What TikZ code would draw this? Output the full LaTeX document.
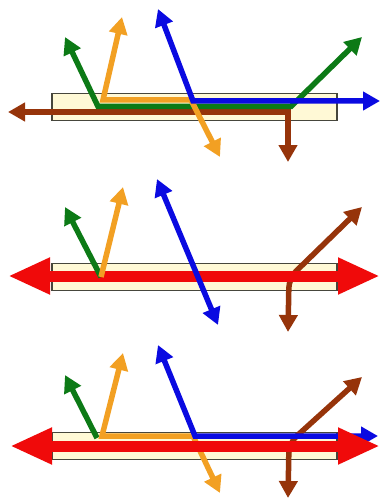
\documentclass[tikz,border=0pt]{standalone}
\usetikzlibrary{arrows.meta}
\definecolor{raybrown}{RGB}{150,52,10}
\definecolor{raygreen}{RGB}{12,122,22}
\definecolor{rayorange}{RGB}{242,160,35}
\definecolor{rayblue}{RGB}{10,10,225}
\definecolor{rayred}{RGB}{240,10,10}
\definecolor{barfill}{RGB}{255,249,214}
\definecolor{barline}{RGB}{70,70,60}

\begin{document}
\begin{tikzpicture}[
  x=1pt, y=-1pt,
  bar/.style={draw=barline, line width=1.2pt, fill=barfill,
              minimum width=285pt, minimum height=27pt, inner sep=0pt},
  ray/.style={line width=5.5pt, -{Triangle[width=18pt,length=17pt]}},
  tworay/.style={line width=5.5pt, {Triangle[width=18pt,length=17pt]}-{Triangle[width=18pt,length=17pt]}},
  beam/.style={line width=11pt, color=rayred,
               {Triangle[width=34pt,length=42pt]}-{Triangle[width=34pt,length=42pt]}}
]
  \useasboundingbox (0,0) rectangle (382,500);

  \node[bar] (bar1) at (194.5,107) {};
  \node[bar] (bar2) at (194.5,277) {};
  \node[bar] (bar3) at (194.5,446) {};

  \coordinate (brownW1) at (8,112);
  \coordinate (brownC1) at (288,112);
  \coordinate (brownS1) at (288,162);
  \coordinate (greenW1) at (65,37);
  \coordinate (greenA1) at (98,106.5);
  \coordinate (greenB1) at (291,106.5);
  \coordinate (greenE1) at (362,37);
  \coordinate (orangeN1) at (122,17);
  \coordinate (orangeA1) at (103,100);
  \coordinate (orangeB1) at (191,100);
  \coordinate (orangeS1) at (220,157);
  \coordinate (blueN1) at (158,9);
  \coordinate (blueA1) at (193,101);
  \coordinate (blueE1) at (380,101);

  \draw[tworay, raybrown] (brownW1) -- (brownC1) -- (brownS1);
  \draw[tworay, raygreen] (greenW1) -- (greenA1) -- (greenB1) -- (greenE1);
  \draw[tworay, rayorange] (orangeN1) -- (orangeA1) -- (orangeB1) -- (orangeS1);
  \draw[tworay, rayblue] (blueN1) -- (blueA1) -- (blueE1);

  \coordinate (hit2) at (101,277);
  \coordinate (greenW2) at (65,207);
  \coordinate (orangeN2) at (123,187);
  \coordinate (blueN2) at (157,179);
  \coordinate (blueS2) at (218,325);
  \coordinate (brownE2) at (362,207);
  \coordinate (brownC2) at (289,278);
  \coordinate (brownS2) at (288,332);
  \coordinate (redW2) at (8,276);
  \coordinate (redE2) at (380,276);

  \draw[tworay, raybrown, rounded corners=10pt] (brownE2) -- (brownC2) -- (brownS2);
  \draw[beam] (redW2) -- (redE2);
  \draw[ray, raygreen] (hit2) -- (greenW2);
  \draw[ray, rayorange] (hit2) -- (orangeN2);
  \draw[tworay, rayblue] (blueN2) -- (blueS2);

  \coordinate (greenW3) at (65,375);
  \coordinate (greenA3) at (97,438);
  \coordinate (orangeN3) at (123,353);
  \coordinate (orangeA3) at (102,436);
  \coordinate (orangeB3) at (193,436);
  \coordinate (orangeS3) at (220,493);
  \coordinate (blueN3) at (158,345);
  \coordinate (blueA3) at (195,436);
  \coordinate (blueE3) at (378,436);
  \coordinate (brownE3) at (362,377);
  \coordinate (brownC3) at (289,443);
  \coordinate (brownS3) at (288,498);
  \coordinate (redW3) at (10,446);
  \coordinate (redE3) at (380,446);

  \draw[tworay, raybrown, rounded corners=10pt] (brownE3) -- (brownC3) -- (brownS3);
  \draw[ray, raygreen] (greenA3) -- (greenW3);
  \draw[tworay, rayorange] (orangeN3) -- (orangeA3) -- (orangeB3) -- (orangeS3);
  \draw[tworay, rayblue] (blueN3) -- (blueA3) -- (blueE3);
  \draw[beam] (redW3) -- (redE3);
\end{tikzpicture}
\end{document}
